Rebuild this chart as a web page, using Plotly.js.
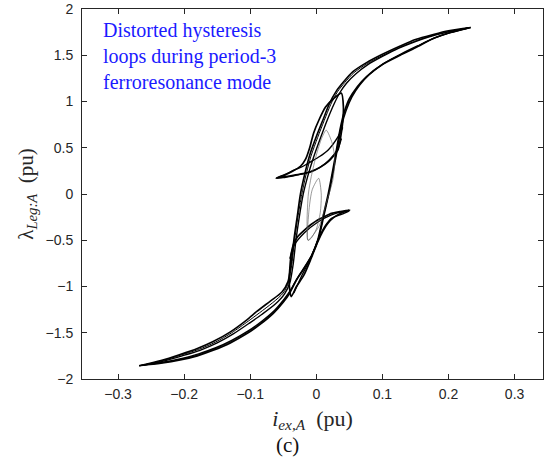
<!DOCTYPE html>
<html>
<head>
<meta charset="utf-8">
<script src="https://cdn.plot.ly/plotly-3.0.1.min.js"></script>
<style>html,body{margin:0;padding:0;background:#fff;}#chart{width:546px;height:458px;}</style>
</head>
<body>
<div id="chart"></div>
<script>
// ---- data (i_ex,A in pu, lambda in pu) ----
// outer major loop, descending (upper-left) branch, line 1
const descA_x = [0.2336,0.200,0.177,0.150,0.127,0.100,0.076,0.055,0.041,0.030,0.020,0.010,0.000,-0.010,-0.018,-0.024,-0.029,-0.034,-0.038,-0.043,-0.052,-0.070,-0.090,-0.105,-0.130,-0.156,-0.180,-0.206,-0.235,-0.268];
const descA_y = [1.800,1.765,1.725,1.670,1.600,1.510,1.420,1.320,1.210,1.110,0.980,0.800,0.620,0.420,0.200,0.000,-0.250,-0.500,-0.750,-0.950,-1.060,-1.160,-1.270,-1.360,-1.490,-1.595,-1.670,-1.735,-1.800,-1.856];
// outer major loop, ascending (lower-right) branch, line 1
const ascA_x = [-0.268,-0.235,-0.206,-0.180,-0.156,-0.130,-0.105,-0.085,-0.065,-0.050,-0.040,-0.030,-0.018,-0.008,0.002,0.010,0.018,0.025,0.031,0.036,0.042,0.050,0.062,0.076,0.100,0.127,0.150,0.177,0.200,0.2336];
const ascA_y = [-1.856,-1.830,-1.795,-1.750,-1.690,-1.610,-1.510,-1.410,-1.290,-1.170,-1.070,-0.930,-0.800,-0.680,-0.500,-0.250,0.000,0.260,0.500,0.700,0.880,1.030,1.160,1.270,1.400,1.500,1.580,1.680,1.740,1.800];
// second pass of the major loop, descending branch
const descB_x = [0.2300,0.200,0.175,0.150,0.125,0.100,0.078,0.060,0.046,0.036,0.026,0.016,0.006,-0.004,-0.013,-0.020,-0.026,-0.031,-0.035,-0.040,-0.048,-0.062,-0.082,-0.100,-0.125,-0.150,-0.176,-0.203,-0.233,-0.262];
const descB_y = [1.795,1.752,1.708,1.648,1.578,1.487,1.398,1.300,1.200,1.100,0.960,0.790,0.600,0.400,0.190,-0.010,-0.260,-0.510,-0.760,-0.960,-1.080,-1.190,-1.300,-1.390,-1.510,-1.610,-1.690,-1.750,-1.810,-1.850];
// second pass of the major loop, ascending branch
const ascB_x = [-0.262,-0.232,-0.203,-0.178,-0.153,-0.128,-0.103,-0.083,-0.063,-0.049,-0.039,-0.028,-0.016,-0.006,0.004,0.012,0.020,0.027,0.033,0.038,0.045,0.054,0.066,0.080,0.104,0.130,0.153,0.180,0.203,0.2300];
const ascB_y = [-1.850,-1.818,-1.778,-1.728,-1.665,-1.582,-1.480,-1.378,-1.256,-1.140,-1.040,-0.900,-0.770,-0.650,-0.470,-0.220,0.030,0.290,0.530,0.730,0.900,1.050,1.180,1.290,1.420,1.520,1.600,1.690,1.745,1.795];
// third pass of the major loop, descending branch
const descC_x = [0.2320,0.202,0.178,0.152,0.128,0.101,0.077,0.057,0.043,0.032,0.022,0.012,0.002,-0.008,-0.016,-0.022,-0.028,-0.033,-0.037,-0.042,-0.050,-0.066,-0.086,-0.103,-0.128,-0.153,-0.178,-0.205,-0.234,-0.265];
const descC_y = [1.798,1.760,1.718,1.660,1.590,1.500,1.410,1.312,1.205,1.105,0.970,0.795,0.610,0.410,0.195,-0.005,-0.255,-0.505,-0.755,-0.955,-1.070,-1.175,-1.285,-1.375,-1.500,-1.603,-1.680,-1.742,-1.805,-1.853];
// third pass of the major loop, ascending branch
const ascC_x = [-0.265,-0.233,-0.205,-0.179,-0.155,-0.129,-0.104,-0.084,-0.064,-0.050,-0.040,-0.029,-0.017,-0.007,0.003,0.011,0.019,0.026,0.032,0.037,0.043,0.052,0.064,0.078,0.102,0.128,0.151,0.178,0.201,0.2320];
const ascC_y = [-1.853,-1.824,-1.786,-1.740,-1.678,-1.596,-1.495,-1.394,-1.273,-1.155,-1.055,-0.915,-0.785,-0.665,-0.485,-0.235,0.015,0.275,0.515,0.715,0.890,1.040,1.170,1.280,1.410,1.510,1.590,1.685,1.742,1.798];
// upper minor loop (bulge and horn at i = -0.06 pu)
const upLoop_x = [0.038,0.026,0.014,0.004,-0.004,-0.010,-0.016,-0.024,-0.036,-0.049,-0.0605,-0.048,-0.033,-0.020,-0.008,0.005,0.018,0.027,0.033,0.037,0.040,0.041,0.038];
const upLoop_y = [1.090,1.030,0.940,0.800,0.660,0.500,0.380,0.300,0.245,0.200,0.170,0.185,0.205,0.220,0.240,0.285,0.350,0.420,0.480,0.620,0.780,0.940,1.090];
// upper horn, outer edge
const upHorn_x = [0.040,0.033,0.018,0.005,-0.008,-0.020,-0.033,-0.048,-0.0605,-0.050,-0.036,-0.022,-0.008,0.006,0.020,0.032,0.038];
const upHorn_y = [0.720,0.620,0.476,0.405,0.350,0.300,0.260,0.210,0.172,0.178,0.195,0.215,0.245,0.290,0.370,0.480,0.600];
// lower minor loop (bulge and horn at i = +0.05 pu)
const loLoop_x = [-0.038,-0.030,-0.019,-0.008,0.002,0.010,0.017,0.027,0.038,0.0505,0.036,0.023,0.012,0.002,-0.008,-0.018,-0.028,-0.034,-0.038,-0.040,-0.041,-0.038];
const loLoop_y = [-1.110,-1.000,-0.880,-0.700,-0.520,-0.400,-0.320,-0.250,-0.205,-0.173,-0.190,-0.209,-0.245,-0.280,-0.330,-0.390,-0.460,-0.533,-0.650,-0.800,-0.960,-1.110];
// lower horn, outer edge
const loHorn_x = [-0.040,-0.034,-0.018,0.003,0.023,0.040,0.0505,0.040,0.023,0.0127,0.0026,-0.0076,-0.0227,-0.034];
const loHorn_y = [-0.700,-0.560,-0.420,-0.300,-0.225,-0.190,-0.180,-0.215,-0.263,-0.353,-0.497,-0.678,-0.894,-1.070];
// faint inner loops near the origin
const thin1_x = [0.015,0.024,0.028,0.025,0.015,0.004,-0.0126,-0.014,-0.012,-0.0076,0.000,0.008,0.015];
const thin1_y = [0.690,0.550,0.370,0.150,-0.100,-0.350,-0.500,-0.300,0.000,0.190,0.420,0.600,0.690];
const thin2_x = [0.0036,0.0075,0.006,0.000,-0.008,-0.0126,-0.011,-0.006,0.0036];
const thin2_y = [0.170,0.000,-0.200,-0.380,-0.480,-0.500,-0.170,0.050,0.170];

const xTicks = [-0.3,-0.2,-0.1,0,0.1,0.2,0.3];
const yTicks = [-2,-1.5,-1,-0.5,0,0.5,1,1.5,2];

function line(x, y, w, c) {
  return {x: x, y: y, type: 'scatter', mode: 'lines', hoverinfo: 'skip', showlegend: false,
          line: {color: c || '#000', width: w, shape: 'spline', smoothing: 0.7}};
}
const traces = [
  line(descA_x, descA_y, 1.6), line(ascA_x, ascA_y, 1.6),
  line(descB_x, descB_y, 1.4), line(ascB_x, ascB_y, 1.4),
  line(descC_x, descC_y, 1.0), line(ascC_x, ascC_y, 1.0),
  line(upLoop_x, upLoop_y, 1.7), line(upHorn_x, upHorn_y, 1.4),
  line(loLoop_x, loLoop_y, 1.7), line(loHorn_x, loHorn_y, 1.4),
  line(thin1_x, thin1_y, 0.6, '#555'), line(thin2_x, thin2_y, 0.6, '#555')
];

const axisCommon = {
  showline: true, mirror: 'ticks', linecolor: '#262626', linewidth: 1,
  ticks: 'inside', ticklen: 5, tickcolor: '#262626', tickwidth: 1,
  showgrid: false, zeroline: false,
  tickfont: {family: 'Liberation Sans, Arial, sans-serif', size: 14, color: '#262626'}
};
const layout = {
  width: 546, height: 458,
  margin: {l: 82, r: 3, t: 9, b: 79},
  paper_bgcolor: '#fff', plot_bgcolor: '#fff',
  xaxis: Object.assign({}, axisCommon, {
    range: [-0.3545, 0.343], tickvals: xTicks, ticklabelstandoff: 2,
    title: {text: '<i>i</i><sub><i>ex,A</i></sub>  (pu)', standoff: 9,
            font: {family: 'Liberation Serif, DejaVu Serif, serif', size: 22, color: '#262626'}}
  }),
  yaxis: Object.assign({}, axisCommon, {
    range: [-2, 2], tickvals: yTicks, ticklabelstandoff: 5,
    title: {text: 'λ<sub><i>Leg:A</i></sub>  (pu)', standoff: 6,
            font: {family: 'Liberation Serif, DejaVu Serif, serif', size: 21, color: '#262626'}}
  }),
  annotations: [
    {xref: 'paper', yref: 'paper', x: 0.041, y: 0.978, xanchor: 'left', yanchor: 'top',
     align: 'left', showarrow: false,
     text: 'Distorted hysteresis<br>loops during period-3<br>ferroresonance mode',
     font: {family: 'Liberation Serif, Times New Roman, serif', size: 20, color: '#1a1aff'}},
    {xref: 'paper', yref: 'paper', x: 0.445, y: -0.178, xanchor: 'center', yanchor: 'middle',
     showarrow: false, text: '(c)',
     font: {family: 'Liberation Serif, Times New Roman, serif', size: 21, color: '#111'}}
  ]
};
Plotly.newPlot('chart', traces, layout, {staticPlot: true, displayModeBar: false});
</script>
</body>
</html>
